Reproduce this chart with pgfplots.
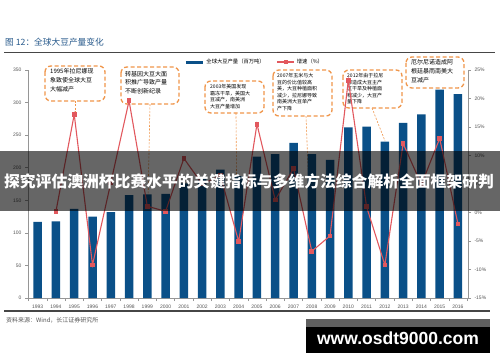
\documentclass[border=0pt]{standalone}
\usepackage{fontspec}
\setmainfont{Liberation Sans}
\newfontfamily\cjk{Noto Sans CJK SC}
\usepackage{pgfplots}
\pgfplotsset{compat=1.18}
\definecolor{barblue}{RGB}{10,80,136}
\definecolor{linered}{RGB}{226,88,94}
\definecolor{corange}{RGB}{240,150,75}
\definecolor{titleblue}{RGB}{40,90,140}
\definecolor{ticklab}{RGB}{85,85,85}
\definecolor{axisgray}{RGB}{150,150,150}
\definecolor{rulegray}{RGB}{70,70,70}
\definecolor{stripgray}{RGB}{95,95,95}

\begin{document}
\begin{tikzpicture}[x=1pt,y=1pt,
  callout/.style={draw=corange, line width=1.3pt, dash pattern=on 4pt off 2.5pt, rounded corners=6pt, fill=white},
  leader/.style={draw=corange, line width=0.6pt, dash pattern=on 2pt off 1.5pt},
  ctext/.style={anchor=north west, align=left, inner sep=0, font=\cjk\fontsize{6}{8.7}\selectfont},
  csmall/.style={anchor=north west, align=left, inner sep=0, font=\cjk\fontsize{5}{6.6}\selectfont}]
\fill[white] (0,0) rectangle (500,362);
% title
\node[anchor=west, inner sep=0, text=titleblue, font=\cjk\fontsize{8.7}{10}\selectfont] at (5,362-42.3) {图 12：全球大豆产量变化};
\draw[line width=1.3pt, rulegray] (4,362-52.3) -- (495,362-52.3);

% leaders
\draw[leader] (75,362-101) -- (75,362-114);
\draw[leader] (150,362-104) -- (148,362-200);
\draw[leader] (236,362-113) -- (237,362-236);
\draw[leader] (306,362-116) -- (311,362-246);
\draw[leader] (372,362-108) -- (385,362-141);

% callouts
\draw[callout] (45,362-66) rectangle (105,362-101);
\node[ctext] at (50,362-68.5) {1995年拉尼娜现\\象致使全球大豆\\大幅减产};
\draw[callout] (121,362-67) rectangle (179,362-104);
\node[ctext] at (125,362-71) {转基因大豆大面\\积推广导致产量\\不断创新纪录};
\draw[callout] (205,362-81) rectangle (264,362-113);
\node[csmall] at (210,362-84) {2003年美国发现\\霜冻干旱，美国大\\豆减产，南美洲\\大豆产量增加};
\draw[callout] (273,362-70) rectangle (332,362-116);
\node[csmall] at (277,362-73) {2007年玉米与大\\豆的价比值较高\\美，大豆种植面积\\减少，拉尼娜导致\\南美洲大豆单产\\产下降};
\draw[callout] (343,362-70) rectangle (402,362-108);
\node[csmall] at (347,362-73) {2012年由于拉尼\\娜造成大豆主产\\区干旱及种植面\\积减少，大豆产\\量下降};
\draw[callout] (406,362-57) rectangle (464,362-88);
\node[ctext] at (411,362-59.5) {厄尔尼诺造成阿\\根廷暴雨南美大\\豆减产};

% bars
\begin{axis}[
  at={(28pt,64pt)}, anchor=south west, scale only axis, width=440pt, height=228pt,
  xmin=1992.47, xmax=2016.55, ymin=0, ymax=350,
  axis y line*=left, axis x line*=bottom,
  axis line style={draw=axisgray, line width=0.6pt},
  xtick={1993,...,2016},
  minor xtick={1992.5,1993.5,...,2016.5},
  major x tick style={draw=none},
  minor tick length=3pt, major tick length=3pt, tick align=outside,
  ytick={0,50,...,350},
  tick style={axisgray, line width=0.5pt},
  ticklabel style={font=\fontsize{5}{6}\selectfont, text=ticklab},
  /pgf/number format/assume math mode=true,
  xticklabel style={/pgf/number format/1000 sep={}},
  ybar, bar width=8.5pt,
]
\addplot[fill=barblue, draw=none] coordinates {
(1993,117) (1994,117.5) (1995,137) (1996,125) (1997,132) (1998,158)
(1999,159) (2000,160) (2001,176) (2002,185) (2003,197) (2004,187)
(2005,217) (2006,221) (2007,238) (2008,221) (2009,212) (2010,262)
(2011,263) (2012,240) (2013,269) (2014,282) (2015,320) (2016,313)};
\end{axis}

% growth line
\begin{axis}[
  at={(28pt,64pt)}, anchor=south west, scale only axis, width=440pt, height=228pt,
  xmin=1992.47, xmax=2016.55, ymin=-15, ymax=25,
  axis y line*=right, axis x line=none,
  axis line style={draw=axisgray, line width=0.6pt},
  ytick={-15,-10,...,25},
  yticklabel={\pgfmathprintnumber{\tick}\%},
  major tick length=3pt, tick align=outside,
  tick style={axisgray, line width=0.5pt},
  ticklabel style={font=\fontsize{5}{6}\selectfont, text=ticklab},
  /pgf/number format/assume math mode=true,
  legend columns=2,
  legend style={draw=none, fill=none, at={(axis description cs:0.355,1.035)}, anchor=west,
    font=\cjk\fontsize{5.3}{6}\selectfont, inner sep=0pt,
    /tikz/every even column/.append style={column sep=10pt}},
]
\addlegendimage{line width=3pt, barblue}
\addlegendentry{全球大豆产量（百万吨）}
\addplot[linered, line width=1.1pt, mark=square*, mark size=1.8pt, mark options={fill=linered, solid}] coordinates {
(1994,0.2) (1995,17.2) (1996,-9.2) (1997,5.2) (1998,19.6) (1999,1.1)
(2000,0.2) (2001,9.5) (2002,5.0) (2003,6.5) (2004,-5.1) (2005,15.5)
(2006,2.2) (2007,7.7) (2008,-6.8) (2009,-4.1) (2010,23.2) (2011,1.0)
(2012,-9.2) (2013,12.1) (2014,4.9) (2015,13.0) (2016,-2.0)};
\addlegendentry{增速（\%）}
\end{axis}

% bottom rule and source
\draw[line width=1.5pt, rulegray] (4,362-311) -- (490,362-311);
\node[anchor=west, inner sep=0, text=ticklab, font=\cjk\fontsize{6}{7}\selectfont] at (6,362-320) {资料来源：Wind，长江证券研究所};

% overlay band
\fill[black, opacity=0.6] (0,362-211) rectangle (500,362-150.5);
\node[inner sep=0, text=white, font=\cjk\bfseries\fontsize{15.8}{18}\selectfont] at (249,362-181) {探究评估澳洲杯比赛水平的关键指标与多维方法综合解析全面框架研判};

% url box
\fill[stripgray] (306,362-327) rectangle (490,362-319.3);
\fill[black] (306,362-352.7) rectangle (490,362-327);
\node[inner sep=0, text=white, font=\bfseries\fontsize{17.5}{20}\selectfont] at (398,362-338.5) {www.osdt9000.com};

\path (0,0) rectangle (500,362);
\end{tikzpicture}
\end{document}
